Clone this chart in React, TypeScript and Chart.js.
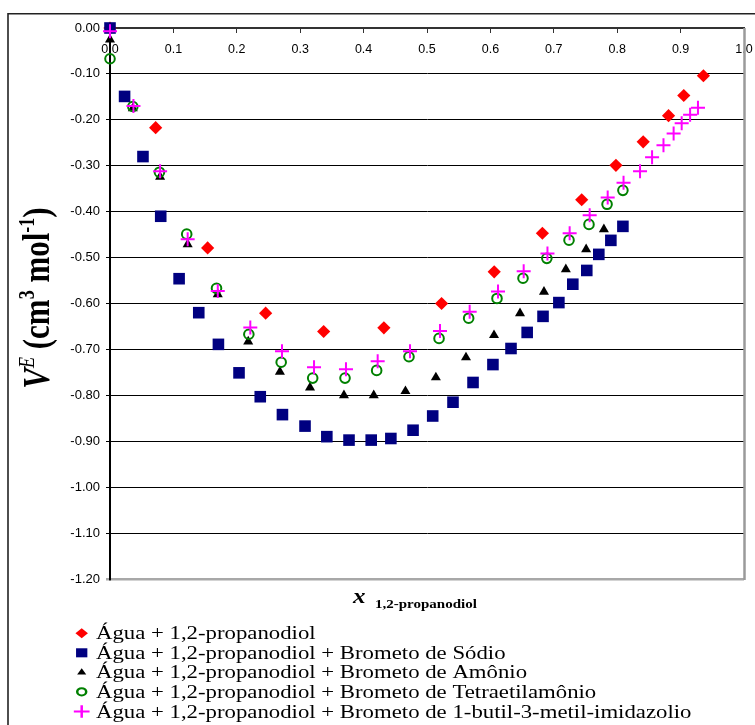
import React, { useEffect, useRef } from 'react';
import { Chart, registerables } from 'chart.js';
import { drawPoint } from 'chart.js/helpers';

Chart.register(...registerables);
Chart.defaults.font.family = '"Liberation Sans", Arial, sans-serif';

// Axis ranges and steps
const X_MIN = 0;
const X_MAX = 1;
const X_STEP = 0.1;
const Y_MIN = -1.2;
const Y_MAX = 0;
const Y_STEP = 0.1;

// Água + 1,2-propanodiol
const aguaX = [0, 0.072, 0.154, 0.2455, 0.337, 0.432, 0.523, 0.606, 0.682, 0.744, 0.798, 0.841, 0.881, 0.905, 0.936];
const aguaY = [0, -0.217, -0.479, -0.621, -0.661, -0.653, -0.6, -0.531, -0.447, -0.374, -0.299, -0.248, -0.191, -0.147, -0.104];

// + Brometo de Sódio
const sodioX = [0, 0.023, 0.052, 0.08, 0.109, 0.14, 0.171, 0.2035, 0.237, 0.272, 0.3076, 0.342, 0.377, 0.412, 0.443, 0.478, 0.509, 0.541, 0.5726, 0.604, 0.6325, 0.658, 0.683, 0.708, 0.73, 0.752, 0.771, 0.79, 0.809];
const sodioY = [0, -0.149, -0.28, -0.41, -0.546, -0.62, -0.689, -0.751, -0.803, -0.842, -0.867, -0.89, -0.8975, -0.8975, -0.894, -0.876, -0.845, -0.815, -0.772, -0.733, -0.698, -0.663, -0.628, -0.598, -0.558, -0.528, -0.493, -0.4625, -0.432];

// + Brometo de Amônio
const amonioX = [0, 0.036, 0.079, 0.1225, 0.17, 0.218, 0.268, 0.3155, 0.369, 0.416, 0.466, 0.514, 0.5615, 0.6057, 0.6467, 0.6845, 0.719, 0.751, 0.779];
const amonioY = [-0.025, -0.175, -0.324, -0.471, -0.58, -0.683, -0.749, -0.783, -0.8, -0.8, -0.791, -0.761, -0.7175, -0.669, -0.6215, -0.5745, -0.5257, -0.482, -0.4386];

// + Brometo de Tetraetilamônio
const tetraX = [0, 0.036, 0.078, 0.121, 0.168, 0.219, 0.27, 0.3197, 0.3707, 0.4206, 0.4716, 0.519, 0.5657, 0.6104, 0.6514, 0.689, 0.724, 0.7555, 0.784, 0.809];
const tetraY = [-0.067, -0.171, -0.314, -0.449, -0.567, -0.667, -0.728, -0.7625, -0.7625, -0.7457, -0.716, -0.676, -0.632, -0.589, -0.545, -0.5017, -0.462, -0.4277, -0.384, -0.3536];

// + Brometo de 1-butil-3-metil-imidazolio
const bmimX = [0, 0.037, 0.079, 0.1225, 0.17, 0.2213, 0.2713, 0.3218, 0.3722, 0.4222, 0.4732, 0.5205, 0.5673, 0.612, 0.6525, 0.69, 0.725, 0.7566, 0.785, 0.81, 0.836, 0.855, 0.873, 0.889, 0.9017, 0.915, 0.9274];
const bmimY = [-0.007, -0.17, -0.312, -0.46, -0.573, -0.652, -0.704, -0.739, -0.743, -0.726, -0.704, -0.66, -0.618, -0.574, -0.53, -0.491, -0.447, -0.408, -0.369, -0.337, -0.312, -0.2817, -0.2556, -0.2295, -0.2077, -0.189, -0.1736];

const seriesLabels = [
  'Água + 1,2-propanodiol',
  'Água + 1,2-propanodiol + Brometo de Sódio',
  'Água + 1,2-propanodiol + Brometo de Amônio',
  'Água + 1,2-propanodiol + Brometo de Tetraetilamônio',
  'Água + 1,2-propanodiol + Brometo de 1-butil-3-metil-imidazolio',
];

const toPoints = (xs: number[], ys: number[]) => xs.map((x, i) => ({ x, y: ys[i] }));

type MarkerStyle = {
  pointStyle: string;
  radius: number;
  fill: string;
  stroke: string;
  borderWidth: number;
  legendRadius: number;
};

const markers: MarkerStyle[] = [
  { pointStyle: 'rectRot', radius: 6.6, fill: '#FF0000', stroke: '#FF0000', borderWidth: 0, legendRadius: 5 },
  { pointStyle: 'rect', radius: 8.2, fill: '#000080', stroke: '#000080', borderWidth: 0, legendRadius: 6.4 },
  { pointStyle: 'triangle', radius: 5.8, fill: '#000000', stroke: '#000000', borderWidth: 0, legendRadius: 4.2 },
  { pointStyle: 'circle', radius: 4.8, fill: 'rgba(0,0,0,0)', stroke: '#008000', borderWidth: 2, legendRadius: 3.6 },
  { pointStyle: 'cross', radius: 7, fill: 'rgba(0,0,0,0)', stroke: '#FF00FF', borderWidth: 2, legendRadius: 6.3 },
];

const H_STRETCH = 1.25;
const SERIF = '"Liberation Serif", "Times New Roman", serif';

function stretchedText(ctx: CanvasRenderingContext2D, text: string, x: number, y: number, font: string, stretch = H_STRETCH) {
  ctx.save();
  ctx.font = font;
  ctx.textBaseline = 'alphabetic';
  ctx.textAlign = 'left';
  ctx.fillStyle = '#000';
  ctx.translate(x, y);
  ctx.scale(stretch, 1);
  ctx.fillText(text, 0, 0);
  ctx.restore();
}

const decorations = {
  id: 'decorations',
  beforeDatasetsDraw(chart: Chart) {
    const { ctx, chartArea } = chart;
    ctx.save();
    // plot-area right edge
    ctx.strokeStyle = '#9a9a9a';
    ctx.lineWidth = 2.5;
    ctx.beginPath();
    ctx.moveTo(chartArea.right + 0.5, chartArea.top);
    ctx.lineTo(chartArea.right + 0.5, chartArea.bottom + 1);
    ctx.stroke();
    ctx.restore();
  },
  afterDraw(chart: Chart) {
    const { ctx } = chart;
    ctx.save();

    // outer chart frame
    ctx.strokeStyle = '#222';
    ctx.lineWidth = 1.6;
    ctx.beginPath();
    ctx.moveTo(8, 725);
    ctx.lineTo(8, 13.8);
    ctx.lineTo(755, 13.8);
    ctx.stroke();

    // y-axis title, rotated: V^E (cm^3 mol^-1)
    const parts = [
      { t: 'V', font: `italic bold 31px ${SERIF}`, rise: 0 },
      { t: 'E', font: `italic 18px ${SERIF}`, rise: 12 },
      { t: ' (cm', font: `bold 31px ${SERIF}`, rise: 0 },
      { t: '3', font: `bold 18px ${SERIF}`, rise: 12 },
      { t: ' mol', font: `bold 31px ${SERIF}`, rise: 0 },
      { t: '-1', font: `bold 18px ${SERIF}`, rise: 12 },
      { t: ')', font: `bold 31px ${SERIF}`, rise: 0 },
    ];
    let total = 0;
    const widths = parts.map((p) => {
      ctx.font = p.font;
      const w = ctx.measureText(p.t).width;
      total += w;
      return w;
    });
    ctx.save();
    ctx.translate(49, 298);
    ctx.scale(H_STRETCH, 1);
    ctx.rotate(-Math.PI / 2);
    ctx.fillStyle = '#000';
    ctx.textBaseline = 'alphabetic';
    let u = -total / 2;
    parts.forEach((p, i) => {
      ctx.font = p.font;
      ctx.fillText(p.t, u, -p.rise);
      u += widths[i];
    });
    ctx.restore();

    // x-axis title with subscript
    stretchedText(ctx, 'x', 353, 602.5, `italic bold 20px ${SERIF}`);
    stretchedText(ctx, '1,2-propanodiol', 375, 608.3, `bold 12px ${SERIF}`);

    // legend
    const rowY = [633.3, 652.8, 672.4, 691.8, 711.5];
    seriesLabels.forEach((label, i) => {
      const m = markers[i];
      const cy = rowY[i];
      ctx.save();
      ctx.translate(81.7, cy);
      ctx.scale(H_STRETCH, 1);
      ctx.fillStyle = m.fill;
      ctx.strokeStyle = m.stroke;
      ctx.lineWidth = m.borderWidth || 1.6;
      drawPoint(ctx, { pointStyle: m.pointStyle as any, rotation: 0, radius: m.legendRadius, borderWidth: m.borderWidth }, 0, 0);
      ctx.restore();
      stretchedText(ctx, label, 96, cy + 6, `18px ${SERIF}`, 1.265);
    });

    ctx.restore();
  },
};

export default function App() {
  const canvasRef = useRef<HTMLCanvasElement | null>(null);

  useEffect(() => {
    const canvas = canvasRef.current;
    if (!canvas) return;

    const sets = [
      toPoints(aguaX, aguaY),
      toPoints(sodioX, sodioY),
      toPoints(amonioX, amonioY),
      toPoints(tetraX, tetraY),
      toPoints(bmimX, bmimY),
    ];

    const chart = new Chart(canvas, {
      type: 'scatter',
      data: {
        datasets: sets.map((data, i) => ({
          label: seriesLabels[i],
          data,
          // later series are painted above earlier ones
          order: sets.length - i,
          clip: false as any,
          showLine: false,
          pointStyle: markers[i].pointStyle as any,
          pointRadius: markers[i].radius,
          pointHoverRadius: markers[i].radius,
          pointBackgroundColor: markers[i].fill,
          pointBorderColor: markers[i].stroke,
          pointBorderWidth: markers[i].borderWidth,
          backgroundColor: markers[i].fill,
          borderColor: markers[i].stroke,
        })),
      },
      options: {
        responsive: false,
        animation: false,
        events: [],
        layout: { autoPadding: false, padding: { left: 0, top: 28, right: 11, bottom: 146 } },
        plugins: {
          legend: { display: false },
          tooltip: { enabled: false },
          title: { display: false },
        },
        scales: {
          x: {
            type: 'linear',
            min: X_MIN,
            max: X_MAX,
            position: { y: 0 } as any,
            // tick labels may overhang the plot edges without shrinking it
            afterFit: (scale: any) => {
              scale.paddingLeft = 0;
              scale.paddingRight = 0;
            },
            ticks: {
              stepSize: X_STEP,
              autoSkip: false,
              maxRotation: 0,
              padding: 10,
              color: '#000',
              font: { size: 12.5 },
              callback: (v) => Number(v).toFixed(1),
            },
            grid: { drawOnChartArea: false, drawTicks: true, tickLength: 4, color: '#333' },
            border: { color: '#333', width: 2 },
          },
          y: {
            type: 'linear',
            min: Y_MIN,
            max: Y_MAX,
            position: 'left',
            afterFit: (scale) => {
              scale.width = 110;
            },
            ticks: {
              stepSize: Y_STEP,
              autoSkip: false,
              padding: 6,
              color: '#000',
              font: { size: 13 },
              callback: (v) => Number(v).toFixed(2),
            },
            grid: {
              tickLength: 4,
              color: (c: any) => (c.tick && Math.abs(c.tick.value - Y_MIN) < 1e-6 ? '#a8a8a8' : '#000'),
              lineWidth: (c: any) => (c.tick && Math.abs(c.tick.value - Y_MIN) < 1e-6 ? 2.5 : 1),
            },
            border: { color: '#000', width: 2 },
          },
        },
      },
      plugins: [decorations],
    });

    return () => chart.destroy();
  }, []);

  return (
    <div style={{ position: 'fixed', left: 0, top: 0, width: 755, height: 725, background: '#fff' }}>
      <canvas ref={canvasRef} width={755} height={725} style={{ display: 'block' }} />
    </div>
  );
}
